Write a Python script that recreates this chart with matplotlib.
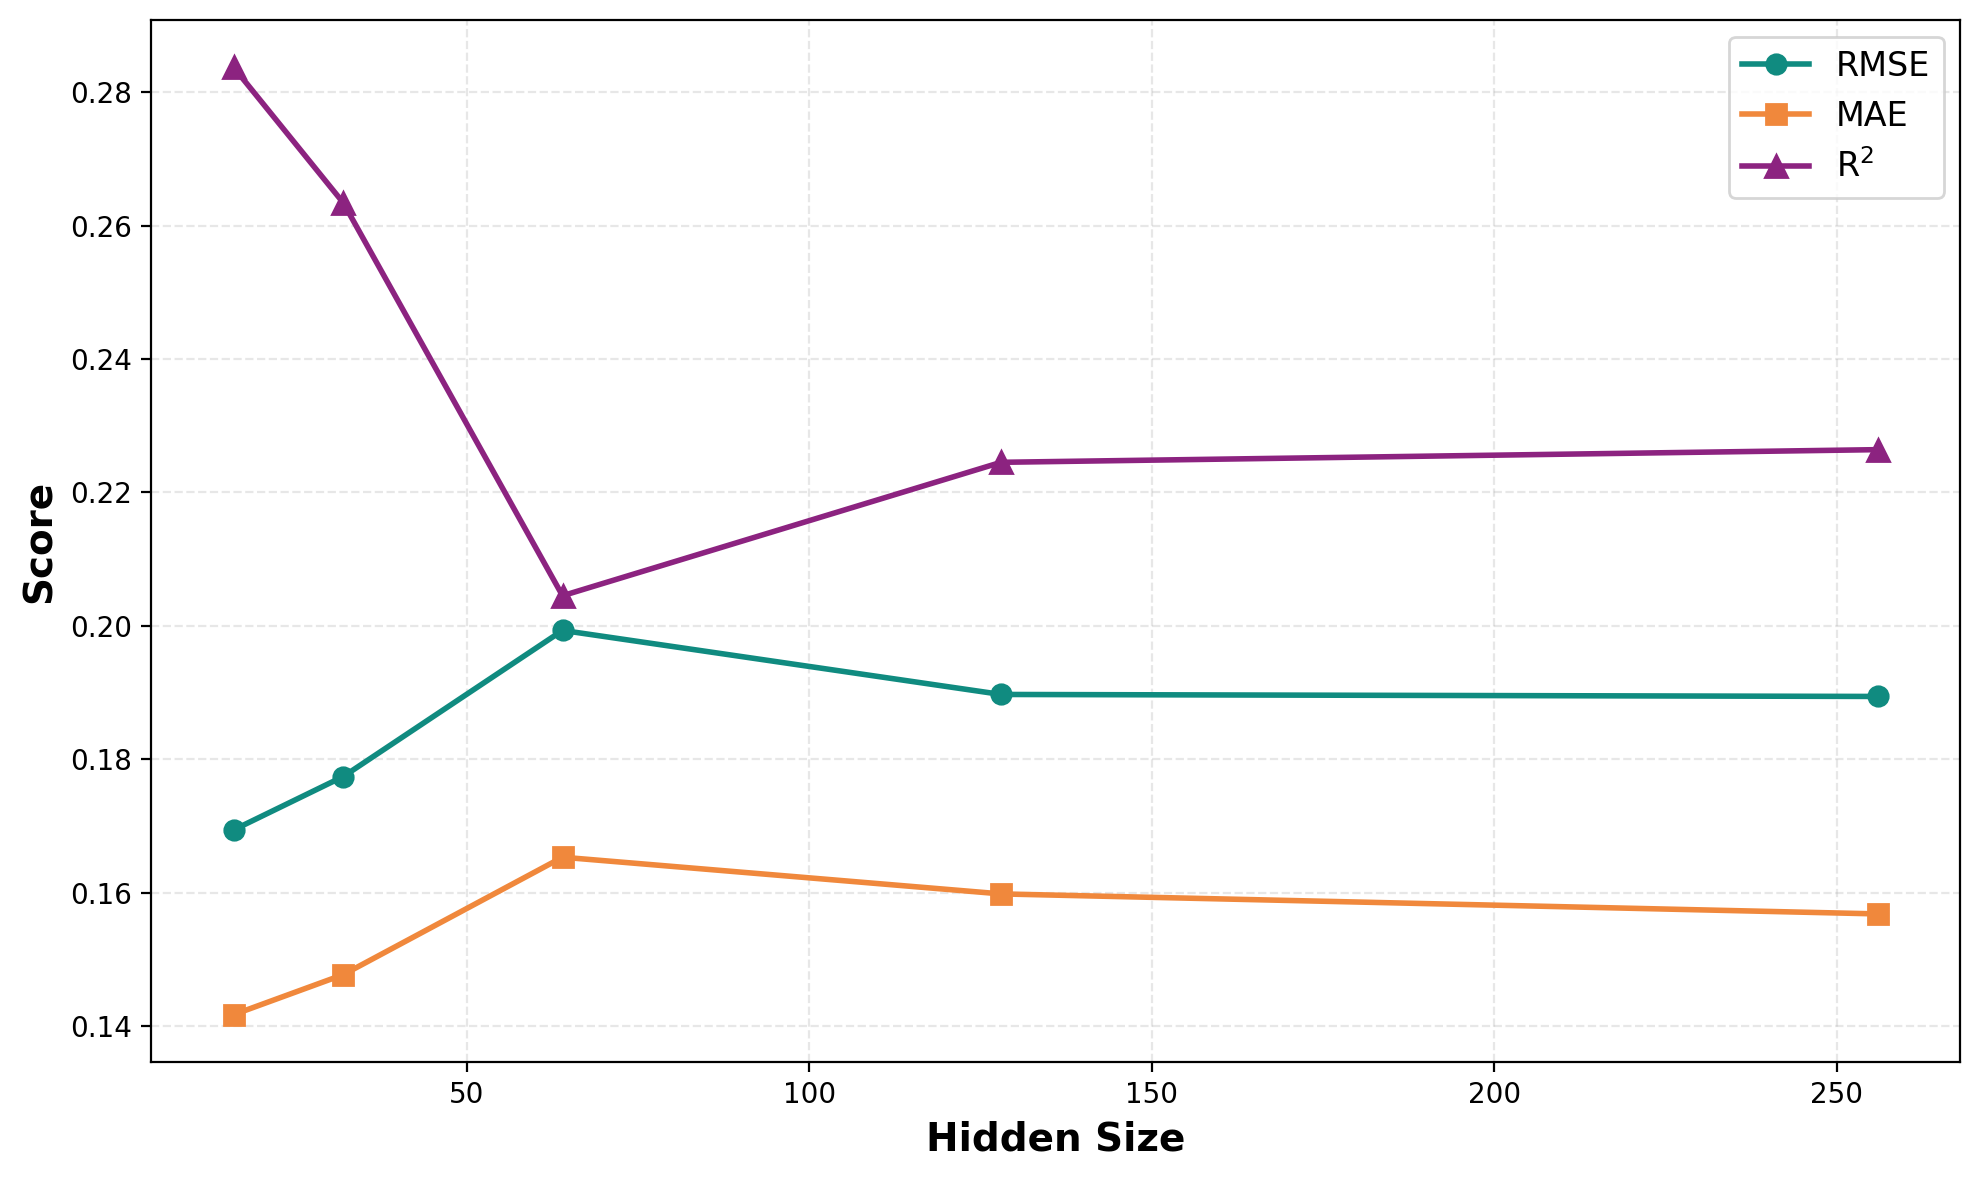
import matplotlib
matplotlib.use('Agg')
import matplotlib.pyplot as plt

# Data
hidden_sizes = [16, 32, 64, 128, 256]
rmse = [0.1694, 0.1774, 0.1993, 0.1897, 0.1894]
mae = [0.1417, 0.1477, 0.1653, 0.1598, 0.1568]
r2 = [0.2837, 0.2634, 0.2045, 0.2245, 0.2264]

fig, ax = plt.subplots(figsize=(9.9, 5.9), dpi=200)
fig.subplots_adjust(left=0.0765, right=0.99, top=0.983, bottom=0.1)

ax.plot(hidden_sizes, rmse, marker='o', color='#108b80', linewidth=2, markersize=7, label='RMSE')
ax.plot(hidden_sizes, mae, marker='s', color='#f0883c', linewidth=2, markersize=7, label='MAE')
ax.plot(hidden_sizes, r2, marker='^', color='#8c2380', linewidth=2, markersize=8, label='R$^2$')

ax.set_xlabel('Hidden Size', fontsize=14, fontweight='bold')
ax.set_ylabel('Score', fontsize=14, fontweight='bold')
ax.grid(True, linestyle='--', alpha=0.3)
ax.legend(loc='upper right', fontsize=12)

plt.savefig('out.png')
